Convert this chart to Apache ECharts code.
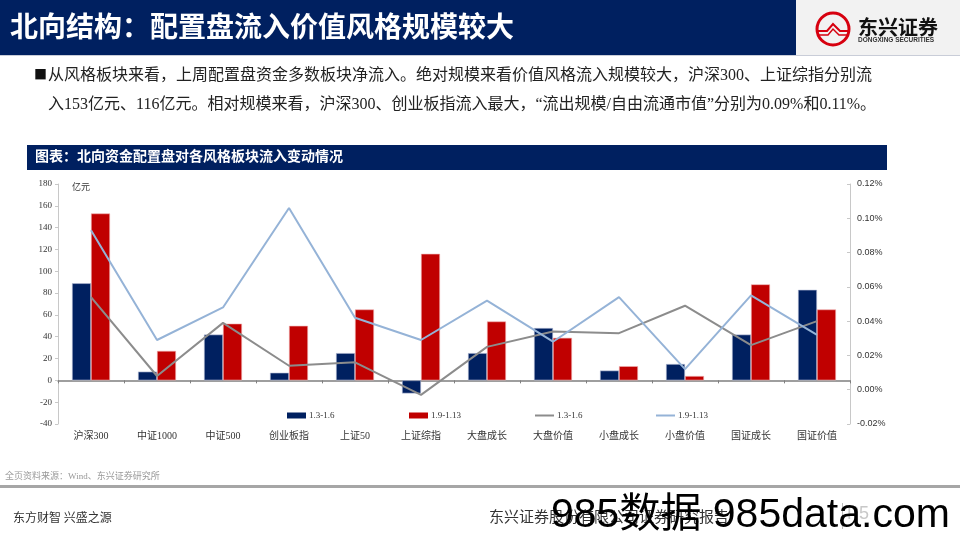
<!DOCTYPE html>
<html>
<head>
<meta charset="utf-8">
<script src="https://cdn.jsdelivr.net/npm/echarts@6/dist/echarts.min.js"></script>
<style>
html,body{margin:0;padding:0;background:#fff;}
#chart{width:960px;height:540px;}
</style>
</head>
<body>
<div id="chart"></div>
<script>
// ---- data ----
const categories = ['沪深300','中证1000','中证500','创业板指','上证50','上证综指','大盘成长','大盘价值','小盘成长','小盘价值','国证成长','国证价值'];
const seriesNames = ['1.3-1.6','1.9-1.13','1.3-1.6','1.9-1.13'];
const flowWeek1 = [89, 8, 42, 7, 25, -12, 25, 48, 9, 15, 42, 83];      // 亿元
const flowWeek2 = [153, 27, 52, 50, 65, 116, 54, 39, 13, 4, 88, 65];  // 亿元
const ratioWeek1 = [0.054, 0.008, 0.039, 0.014, 0.016, -0.003, 0.025, 0.034, 0.033, 0.049, 0.026, 0.040]; // %
const ratioWeek2 = [0.093, 0.029, 0.048, 0.106, 0.042, 0.029, 0.052, 0.028, 0.054, 0.012, 0.055, 0.032]; // %
const leftAxisRange = [-40, 180, 20];
const rightAxisRange = [-0.02, 0.12, 0.02];

const NAVY = '#002060';
const RED = '#C00000';
const serif = "'Liberation Serif','Noto Sans CJK SC'";
const sans = "'Liberation Sans','Noto Sans CJK SC'";
const cjk = "'Noto Sans CJK SC'";

const ids = ['w1bar','w2bar','w1line','w2line'];
const nameMap = {};
ids.forEach((id, i) => nameMap[id] = seriesNames[i]);

const chart = echarts.init(document.getElementById('chart'), null, {renderer:'canvas'});

function legendAt(id, left, h) {
  return {
    data: [id], left: left, top: 411, itemWidth: 19, itemHeight: h, icon: 'rect',
    itemGap: 0, padding: 0, selectedMode: false,
    itemStyle: {borderWidth: 0},
    formatter: n => nameMap[n],
    textStyle: {fontFamily: serif, fontSize: 9, color: '#333', padding: [0,0,0,-2]}
  };
}

const option = {
  animation: false,
  backgroundColor: '#fff',
  grid: {left: 58, right: 110, top: 184, bottom: 116, containLabel: false},
  legend: [
    legendAt('w1bar', 287, 6),
    legendAt('w2bar', 409, 6),
    legendAt('w1line', 535, 2),
    legendAt('w2line', 656, 2)
  ],
  xAxis: [
    {
      type: 'category', data: categories, position: 'bottom',
      axisLine: {show: false, onZero: false}, axisTick: {show: false},
      axisLabel: {fontFamily: serif, fontSize: 10, color: '#333', margin: 7}
    },
    {
      type: 'category', data: categories, position: 'bottom',
      axisLine: {show: true, onZero: true, onZeroAxisIndex: 0, lineStyle: {color: '#7f7f7f', width: 1.5}},
      axisTick: {show: true, length: 3, lineStyle: {color: '#7f7f7f'}},
      axisLabel: {show: false}
    }
  ],
  yAxis: [
    {
      type: 'value', min: leftAxisRange[0], max: leftAxisRange[1], interval: leftAxisRange[2],
      axisLine: {show: true, lineStyle: {color: '#c8c8c8'}},
      axisTick: {show: true, length: 3, lineStyle: {color: '#c8c8c8'}},
      splitLine: {show: false},
      axisLabel: {fontFamily: serif, fontSize: 9, color: '#333', margin: 6}
    },
    {
      type: 'value', position: 'right', min: rightAxisRange[0], max: rightAxisRange[1], interval: rightAxisRange[2],
      axisLine: {show: true, lineStyle: {color: '#c8c8c8'}},
      axisTick: {show: true, inside: true, length: 3, lineStyle: {color: '#c8c8c8'}},
      splitLine: {show: false},
      axisLabel: {fontFamily: sans, fontSize: 9, color: '#333', margin: 7,
        formatter: v => v.toFixed(2) + '%'}
    }
  ],
  series: [
    {name: 'w1bar', type: 'bar', data: flowWeek1, barWidth: 19, barGap: '0%', yAxisIndex: 0,
      itemStyle: {color: NAVY, borderColor: '#b8bfd6', borderWidth: 0.6}},
    {name: 'w2bar', type: 'bar', data: flowWeek2, barWidth: 19, barGap: '0%', yAxisIndex: 0,
      itemStyle: {color: RED, borderColor: '#f0b4b4', borderWidth: 0.6}},
    {name: 'w1line', type: 'line', data: ratioWeek1, yAxisIndex: 1, showSymbol: false, symbol: 'none',
      itemStyle: {color: '#8c8c8c'}, lineStyle: {color: '#8c8c8c', width: 2}},
    {name: 'w2line', type: 'line', data: ratioWeek2, yAxisIndex: 1, showSymbol: false, symbol: 'none',
      itemStyle: {color: '#95b3d7'}, lineStyle: {color: '#95b3d7', width: 2}}
  ],
  graphic: [
    // header band
    {type: 'rect', left: 0, top: 0, shape: {width: 796, height: 55}, style: {fill: NAVY}, silent: true},
    {type: 'rect', left: 796, top: 0, shape: {width: 164, height: 55}, style: {fill: '#f2f2f2'}, silent: true},
    {type: 'rect', left: 0, top: 55, shape: {width: 960, height: 1}, style: {fill: '#c9cdd8'}, silent: true},
    {type: 'text', left: 10, top: 12, style: {text: '北向结构：配置盘流入价值风格规模较大', fill: '#fff', font: "bold 28px " + cjk}},
    // logo
    {type: 'circle', shape: {cx: 833, cy: 29, r: 16}, style: {fill: 'none', stroke: '#d7000f', lineWidth: 3}, silent: true},
    {type: 'polyline', shape: {points: [[818,31],[827,31],[833,24],[840,31],[849,31]]}, style: {fill: 'none', stroke: '#d7000f', lineWidth: 2}, silent: true},
    {type: 'polyline', shape: {points: [[819,35],[828,35],[833,29],[839,35],[848,35]]}, style: {fill: 'none', stroke: '#d7000f', lineWidth: 1.5}, silent: true},
    {type: 'text', left: 858, top: 17, style: {text: '东兴证券', fill: '#111', font: "bold 20px " + cjk}},
    {type: 'text', left: 858, top: 37, style: {text: 'DONGXING SECURITIES', fill: '#333', font: "bold 6.5px " + sans}},
    // paragraph
    {type: 'text', left: 34, top: 68, style: {text: '■', fill: '#111', font: "13px " + cjk}},
    {type: 'text', left: 48, top: 68, style: {text: '从风格板块来看，上周配置盘资金多数板块净流入。绝对规模来看价值风格流入规模较大，沪深300、上证综指分别流', fill: '#222', font: "16px " + serif}},
    {type: 'text', left: 48, top: 97, style: {text: '入153亿元、116亿元。相对规模来看，沪深300、创业板指流入最大，“流出规模/自由流通市值”分别为0.09%和0.11%。', fill: '#222', font: "16px " + serif}},
    // chart title bar
    {type: 'rect', left: 27, top: 145, shape: {width: 860, height: 25}, style: {fill: NAVY}, silent: true},
    {type: 'text', left: 35, top: 149, style: {text: '图表：北向资金配置盘对各风格板块流入变动情况', fill: '#fff', font: "bold 14px " + cjk}},
    // unit label
    {type: 'text', left: 72, top: 182, style: {text: '亿元', fill: '#333', font: "9px " + cjk}},
    // source
    {type: 'text', left: 5, top: 472, style: {text: '全页资料来源：Wind、东兴证券研究所', fill: '#999', font: "9px " + serif}},
    {type: 'rect', left: 0, top: 485, shape: {width: 960, height: 3}, style: {fill: '#a6a6a6'}, silent: true},
    // footer
    {type: 'text', left: 13, top: 511, style: {text: '东方财智 兴盛之源', fill: '#333', font: "12px " + cjk}},
    {type: 'text', left: 489, top: 509, style: {text: '东兴证券股份有限公司证券研究报告', fill: '#333', font: "15px " + cjk}},
    {type: 'rect', left: 842, top: 503, shape: {width: 1, height: 26}, style: {fill: '#bbb'}, silent: true},
    {type: 'text', left: 847, top: 505, style: {text: 'P5', fill: '#c8c8c8', font: "18px " + sans}},
    // watermark
    {type: 'text', left: 551, top: 495, style: {text: '985数据 985data.com', fill: '#000', font: "41px " + sans}}
  ]
};
chart.setOption(option);
</script>
</body>
</html>
